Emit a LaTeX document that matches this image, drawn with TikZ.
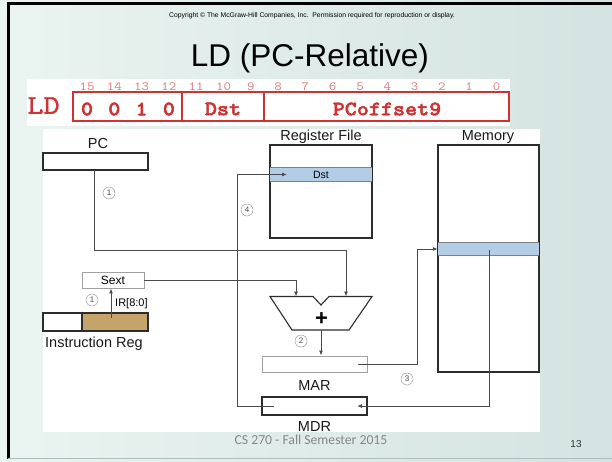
\documentclass[tikz,border=0pt]{standalone}
\usepackage{fontspec}
\setmainfont{Liberation Sans}
\newfontfamily\slab{lmmono10-regular.otf}[FakeStretch=1.14]
\newfontfamily\slabmed{lmmono10-regular.otf}[FakeStretch=1.14,FakeBold=1.2]
\newfontfamily\slabbold{lmmonolt10-bold.otf}[FakeStretch=1.12,FakeBold=2.2]
\newfontfamily\calfont{Carlito}
\usetikzlibrary{arrows.meta,calc}
\definecolor{bgA}{RGB}{234,244,241}
\definecolor{bgB}{RGB}{212,227,225}
\definecolor{fmtred}{RGB}{204,51,51}
\definecolor{bitred}{RGB}{228,125,125}
\definecolor{bandblue}{RGB}{180,205,230}
\definecolor{irtan}{RGB}{196,164,106}
\definecolor{linegray}{RGB}{75,75,75}
\definecolor{boxdark}{RGB}{45,45,45}
\definecolor{boxlight}{RGB}{160,160,160}
\definecolor{footgray}{RGB}{135,135,135}
\tikzset{
  box/.style={draw=boxdark, line width=1.1pt, fill=white, inner sep=0pt},
  lightbox/.style={draw=boxlight, line width=0.9pt, fill=white, inner sep=0pt},
  bandbox/.style={fill=bandblue, draw=none, inner sep=0pt},
  conn/.style={draw=linegray, line width=0.9pt},
  arr/.style={conn, -{Latex[length=5pt,width=4pt]}},
  circ/.style={circle, draw=gray!75, line width=0.5pt, inner sep=0pt, minimum size=12pt, text=black!70, font=\fontsize{8}{8}\selectfont},
  lbl/.style={inner sep=0pt, font=\fontsize{14.5}{15}\selectfont, text=black!90},
  bitnum/.style={inner sep=0pt, text=bitred, font=\slab\fontsize{12.5}{13}\selectfont},
  field/.style={inner sep=0pt, text=fmtred, font=\slabbold\fontsize{20.5}{21}\selectfont}
}
\begin{document}
\begin{tikzpicture}[x=1pt,y=-1pt]
\useasboundingbox (0,0) rectangle (612,461);
\shade[left color=bgA, right color=bgB] (0,0) rectangle (612,461);
% slide frame
\draw[black, line width=3pt] (7,3.5) -- (612,3.5);
\draw[black, line width=3pt] (8.5,2) -- (8.5,459);
\draw[color={rgb,255:red,170;green,190;blue,190}, line width=1.5pt] (8,458.5) -- (612,458.5);
% header
\node[inner sep=0pt, anchor=base, font=\fontsize{6.8}{7}\selectfont] (copy) at (312,17) {Copyright \textcopyright\ The McGraw-Hill Companies, Inc.\ \ Permission required for reproduction or display.};
\node[inner sep=0pt, anchor=base, font=\fontsize{31.5}{33}\selectfont] (title) at (310,66) {LD (PC-Relative)};
% instruction format strip
\fill[white] (27,79) rectangle (510,126);
\node[inner sep=0pt, text=fmtred, font=\slabmed\fontsize{27}{27}\selectfont] (ld) at (43.5,105.5) {LD};
\draw[fmtred, line width=1.3pt] (73,92) rectangle (509,121);
\draw[fmtred, line width=1.3pt] (182,92) -- (182,121) (264,92) -- (264,121);
\foreach \b in {15,...,0}{
  \node[bitnum] (bit\b) at ({87+(15-\b)*27.3},86.5) {\b};
}
\node[field] (f15) at (87,109) {0};
\node[field] (f14) at (114.3,109) {0};
\node[field] (f13) at (141.6,109) {1};
\node[field] (f12) at (168.9,109) {0};
\node[field] (fdst) at (223,109) {Dst};
\node[field] (foff) at (387,109) {PCoffset9};
% diagram panel
\fill[white] (43,129) rectangle (540,432);
% PC
\node[lbl, anchor=base] (pclbl) at (98,148) {PC};
\node[box, minimum width=105pt, minimum height=17pt] (pc) at (95.5,161.5) {};
% Register file
\node[lbl, anchor=base] (rflbl) at (321,140.5) {Register File};
\node[box, minimum width=102pt, minimum height=93pt] (rf) at (321,191.5) {};
\node[bandbox, minimum width=102pt, minimum height=13pt] (rfdst) at (321,174.5) {};
\draw[gray, line width=0.9pt] (rfdst.north west) -- (rfdst.north east) (rfdst.south west) -- (rfdst.south east);
\draw[boxdark, line width=1.1pt] (rf.north west) rectangle (rf.south east);
\node[inner sep=0pt, font=\fontsize{10.5}{11}\selectfont] (dstlbl) at (321,174.5) {Dst};
% Memory
\node[lbl, anchor=base] (memlbl) at (488,140.5) {Memory};
\node[box, minimum width=101pt, minimum height=227pt] (mem) at (488.5,258.5) {};
\node[bandbox, minimum width=101pt, minimum height=12pt] (memband) at (488.5,249) {};
\draw[gray, line width=0.9pt] (memband.north west) -- (memband.north east) (memband.south west) -- (memband.south east);
\draw[boxdark, line width=1.1pt] (mem.north west) rectangle (mem.south east);
% Sext and IR
\node[lightbox, minimum width=62pt, minimum height=16pt] (sext) at (113,280) {};
\node[inner sep=0pt, anchor=base, font=\fontsize{12}{12}\selectfont] (sextlbl) at (113,284.5) {Sext};
\node[box, minimum width=39pt, minimum height=18pt] (irl) at (62.5,322) {};
\node[box, fill=irtan, minimum width=66pt, minimum height=18pt] (irr) at (115,322) {};
\node[lbl, anchor=base west] (irlbl) at (45,347) {Instruction Reg};
\node[inner sep=0pt, anchor=base west, font=\fontsize{11}{11}\selectfont] (irbits) at (115,306) {IR[8:0]};
% adder
\coordinate (addL) at (296,296.5);
\coordinate (addR) at (346,296.5);
\coordinate (addout) at (321,330);
\draw[boxdark, line width=1.1pt, fill=white] (270,296.5) -- (313,296.5) -- (321,305) -- (329,296.5) -- (372,296.5) -- (349,330) -- (292,330) -- cycle;
\node[inner sep=0pt, font=\bfseries\fontsize{22}{22}\selectfont] (plus) at (321.5,319) {+};
% MAR, MDR
\node[lightbox, minimum width=105pt, minimum height=16pt] (mar) at (314.5,364) {};
\node[lbl, anchor=base] (marlbl) at (314.5,390) {MAR};
\node[box, minimum width=105pt, minimum height=18pt] (mdr) at (314.5,406) {};
\node[lbl, anchor=base] (mdrlbl) at (314.5,431.5) {MDR};
% connector endpoints
\coordinate (pcsrc) at (94,170);
\coordinate (irsrc) at (111,318);
\coordinate (marsrc) at (358,364);
\coordinate (memsrc) at (489,250);
\coordinate (mdrin) at (357,406);
\coordinate (mdrsrc) at (274,406);
\coordinate (dstin) at (287,174.5);
% connectors
\draw[arr] (pcsrc) -- ++(0,80) -| (addR);
\draw[arr] (sext.east) -| (addL);
\draw[arr] (irsrc) -- (irsrc |- sext.south);
\draw[arr] (addout) -- (addout |- mar.north);
\draw[arr] (marsrc) -- ++(59,0) |- (memband.west);
\draw[arr] (memsrc) |- (mdrin);
\draw[arr] (mdrsrc) -- ++(-37,0) |- (dstin);
% step numbers
\node[circ] (s1a) at (109,193) {1};
\node[circ] (s4) at (247,210) {4};
\node[circ] (s1b) at (92,300) {1};
\node[circ] (s2) at (301,341) {2};
\node[circ] (s3) at (407,379) {3};
% footer
\node[inner sep=0pt, text=footgray, font=\calfont\fontsize{13.7}{14}\selectfont] (foot) at (311,440) {CS 270 - Fall Semester 2015};
\node[inner sep=0pt, text=black!80, font=\fontsize{10}{10}\selectfont] (pgnum) at (576,444) {13};
\end{tikzpicture}
\end{document}
